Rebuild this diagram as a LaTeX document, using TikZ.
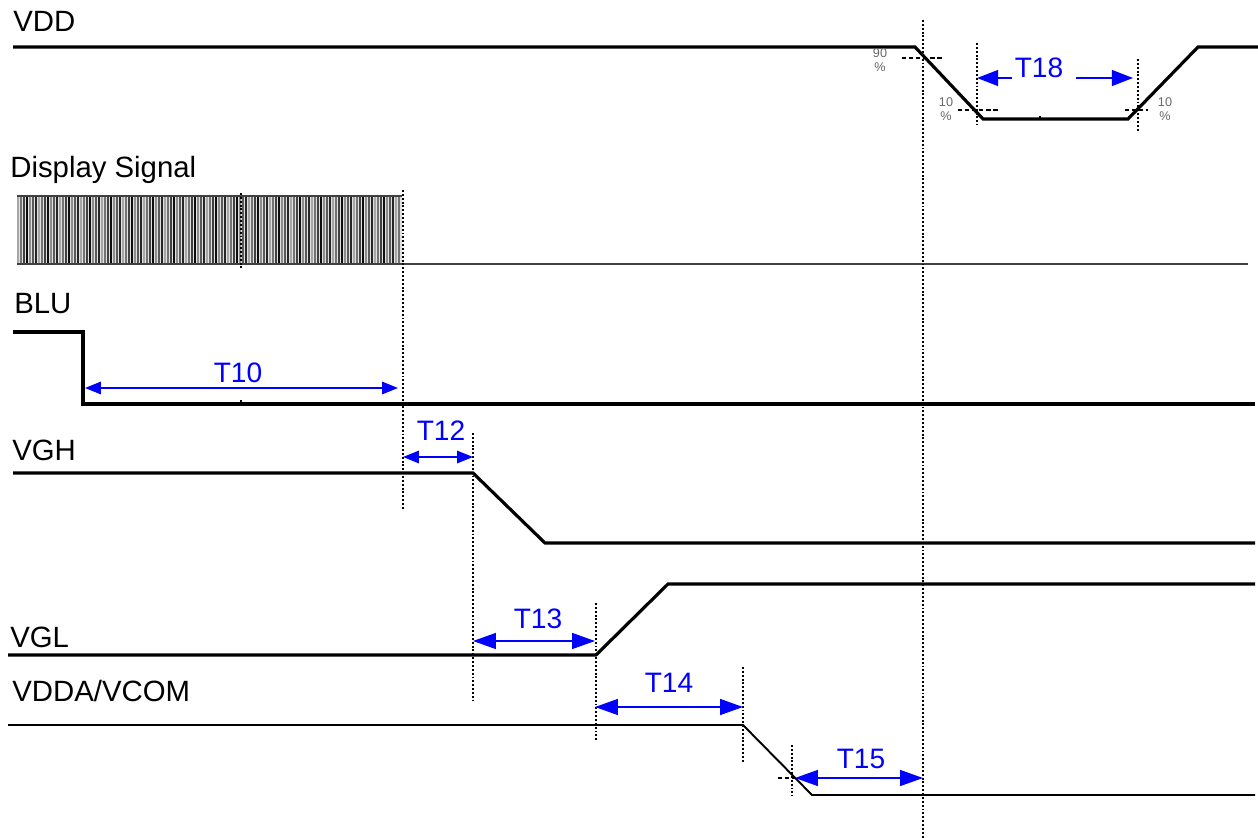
\documentclass[tikz,border=0pt]{standalone}
\usepackage{fontspec}
\setmainfont{Liberation Sans}
\usetikzlibrary{arrows.meta}

\begin{document}
\begin{tikzpicture}[x=0.02cm,y=-0.02cm,
  sig/.style={line width=1.8pt,line join=miter},
  thinsig/.style={line width=1.1pt},
  guide/.style={line width=0.7pt,dash pattern=on 1.1pt off 1.1pt},
  levelmark/.style={line width=0.7pt,dash pattern=on 2.5pt off 1.5pt},
  bigdim/.style={blue,line width=1pt,{Triangle[length=13pt,width=9pt]}-{Triangle[length=13pt,width=9pt]}},
  smalldim/.style={blue,line width=1pt,{Triangle[length=9pt,width=7pt]}-{Triangle[length=9pt,width=7pt]}},
  lbl/.style={inner sep=0pt,anchor=base west,font=\fontsize{16.7}{20}\selectfont},
  tlbl/.style={inner sep=0pt,anchor=base,text=blue,font=\fontsize{16}{19}\selectfont},
  pct/.style={inner sep=0pt,text=black!60,font=\fontsize{7.2}{8}\selectfont,align=center}]
\useasboundingbox (0,0) rectangle (1258,838);

% signal names
\node[lbl] (vddlbl) at (13,32) {VDD};
\node[lbl] (displbl) at (10,177) {Display Signal};
\node[lbl] (blulbl) at (14,313) {BLU};
\node[lbl] (vghlbl) at (12,460) {VGH};
\node[lbl] (vgllbl) at (10,647) {VGL};
\node[lbl] (vcomlbl) at (12,701) {VDDA/VCOM};

% edges
\coordinate (vddfall) at (915,47);
\coordinate (vddlow) at (983,119);
\coordinate (vddup) at (1128,119);
\coordinate (vddhigh) at (1198,47);
\coordinate (dsend) at (402,264);
\coordinate (blufall) at (83,404);
\coordinate (vghfall) at (473,473);
\coordinate (vghlow) at (545,543);
\coordinate (vglrise) at (596,655);
\coordinate (vglhigh) at (668,584);
\coordinate (vcomfall) at (743,725);
\coordinate (vcomlow) at (812,795);

% waveforms
\draw[sig] (13,47) -- (vddfall) -- (vddlow) -- (vddup) -- (vddhigh) -- (1258,47);
\draw[line width=0.6pt] (1040,116) -- (1040,119);

\fill[black!12] (17,196) rectangle (dsend);
\foreach \i in {0,...,127}{
  \pgfmathtruncatemacro\g{mod(\i*37,7)*10+35}
  \draw[black!\g,line width=0.8pt] ({18+\i*3},197) -- ({18+\i*3},263);
}
\draw[black!75,thinsig] (17,196) -- (402,196);
\draw[black!75,thinsig] (17,264) -- (dsend) -- (1248,264);
\draw[guide] (241,193) -- (241,269);

\draw[sig] (13,332) -- (83,332) -- (blufall) -- (1255,404);
\draw[line width=0.6pt] (241,400) -- (241,404);
\draw[sig] (13,473) -- (vghfall) -- (vghlow) -- (1255,543);
\draw[sig] (8,655) -- (vglrise) -- (vglhigh) -- (1255,584);
\draw[thinsig] (8,725) -- (vcomfall) -- (vcomlow) -- (1255,795);

% guide lines
\draw[guide] (923,20) -- (923,838);
\draw[guide] (977,43) -- (977,125);
\draw[guide] (1138,59) -- (1138,132);
\draw[guide] (403,190) -- (403,510);
\draw[guide] (473,433) -- (473,700);
\draw[guide] (596,603) -- (596,742);
\draw[guide] (743,667) -- (743,762);
\draw[guide] (792,745) -- (792,796);
\draw[levelmark] (902,58) -- (942,58);
\draw[levelmark] (958,110) -- (1000,110);
\draw[levelmark] (1125,110) -- (1148,110);
\draw[levelmark] (778,778) -- (797,778);

% percent marks
\node[pct] (p90) at (880,60) {90\\\%};
\node[pct] (p10a) at (946,109) {10\\\%};
\node[pct] (p10b) at (1165,109) {10\\\%};

% timing
\coordinate (t10a) at (85,388);
\coordinate (t10b) at (398,388);
\draw[smalldim] (t10a) -- (t10b);
\node[tlbl] (t10) at (238,382) {T10};
\coordinate (t12a) at (403,457);
\coordinate (t12b) at (473,457);
\draw[smalldim] (t12a) -- (t12b);
\node[tlbl] (t12) at (441,440) {T12};
\coordinate (t13a) at (473,641);
\coordinate (t13b) at (595,641);
\draw[bigdim] (t13a) -- (t13b);
\node[tlbl] (t13) at (538,628) {T13};
\coordinate (t14a) at (595,707);
\coordinate (t14b) at (743,707);
\draw[bigdim] (t14a) -- (t14b);
\node[tlbl] (t14) at (669,692) {T14};
\coordinate (t15a) at (795,778);
\coordinate (t15b) at (923,778);
\draw[bigdim] (t15a) -- (t15b);
\node[tlbl] (t15) at (861,768) {T15};
\node[tlbl] (t18) at (1039,78) {T18};
\coordinate (t18a) at (977,78);
\coordinate (t18b) at (1133,78);
\draw[blue,line width=1pt,-{Triangle[length=12pt,width=9pt]}] (1012,78) -- (t18a);
\draw[blue,line width=1pt,-{Triangle[length=12pt,width=9pt]}] (1076,78) -- (t18b);
\end{tikzpicture}
\end{document}
